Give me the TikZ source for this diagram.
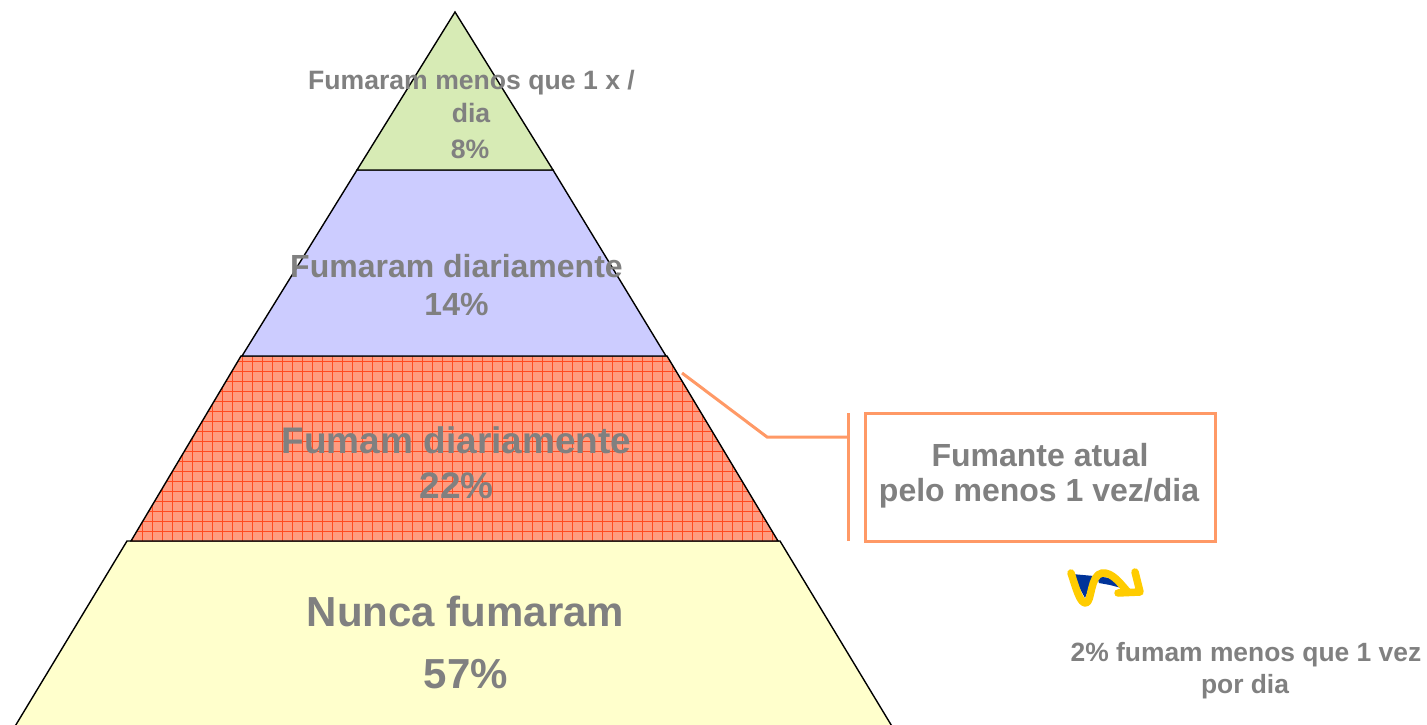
\documentclass[tikz,border=0pt]{standalone}
\usepackage{fontspec}
\setmainfont{Liberation Sans}
\definecolor{txt}{HTML}{808080}
\definecolor{topg}{HTML}{D7EBB5}
\definecolor{lav}{HTML}{CCCCFF}
\definecolor{salmon}{HTML}{FF9C80}
\definecolor{gridred}{HTML}{FF4A20}
\definecolor{ylw}{HTML}{FFFFCC}
\definecolor{callout}{HTML}{FF9966}
\definecolor{arrowy}{HTML}{FFCC00}
\definecolor{arrowb}{HTML}{003399}
\tikzset{
  band/.style={draw=black, line width=1.4pt, line join=miter},
  lbl/.style={anchor=base, text=txt, font=\bfseries, inner sep=0pt},
  calline/.style={draw=callout, line width=3pt},
}
\begin{document}
\begin{tikzpicture}[x=1pt,y=-1pt]
\useasboundingbox (0,0) rectangle (1427,725);
% bottom band
\path[band, fill=ylw] (127,541) -- (780,541) -- (893,728) -- (14,728) -- cycle;
% red hatched band
\path[fill=salmon] (131,541) -- (241,356) -- (667,356) -- (778,541) -- cycle;
\begin{scope}
  \clip (131,541) -- (241,356) -- (667,356) -- (778,541) -- cycle;
  \foreach \x in {122,132,...,790} \draw[gridred, line width=0.7pt] (\x,350) -- (\x,545);
  \foreach \y in {361,371,...,545} \draw[gridred, line width=0.7pt] (120,\y) -- (790,\y);
\end{scope}
\path[band] (131,541) -- (241,356) -- (667,356) -- (778,541) -- cycle;
% lavender band
\path[band, fill=lav] (242,356) -- (357,170) -- (553,170) -- (666,356) -- cycle;
% top triangle
\path[band, fill=topg] (357,170) -- (455,12) -- (553,170) -- cycle;

% labels
\node[lbl, font=\fontsize{26.6}{30}\selectfont\bfseries] (t1a) at (471.5,89) {Fumaram menos que 1 x /};
\node[lbl, font=\fontsize{26.6}{30}\selectfont\bfseries] (t1b) at (471,122) {dia};
\node[lbl, font=\fontsize{26.6}{30}\selectfont\bfseries] (t1c) at (470,158) {8\%};
\node[lbl, font=\fontsize{32}{36}\selectfont\bfseries] (t2a) at (456.5,277) {Fumaram diariamente};
\node[lbl, font=\fontsize{32}{36}\selectfont\bfseries] (t2b) at (456.5,315) {14\%};
\node[lbl, font=\fontsize{37}{42}\selectfont\bfseries] (t3a) at (456.5,453) {Fumam diariamente};
\node[lbl, font=\fontsize{37}{42}\selectfont\bfseries] (t3b) at (456.5,498) {22\%};
\node[lbl, font=\fontsize{42}{46}\selectfont\bfseries] (t4a) at (465.5,626) {Nunca fumaram};
\node[lbl, font=\fontsize{42}{46}\selectfont\bfseries] (t4b) at (466,688) {57\%};

% callout
\node[draw=callout, line width=3pt, minimum width=350pt, minimum height=128pt, inner sep=0pt] (box) at (1040,477) {};
\node[lbl, font=\fontsize{32}{36}\selectfont\bfseries] (c1) at (1040,466) {Fumante atual};
\node[lbl, font=\fontsize{32}{36}\selectfont\bfseries] (c2) at (1039,501) {pelo menos 1 vez/dia};
\coordinate (ctip) at (682,373);
\coordinate (cbend) at (767,437);
\coordinate (cbar) at (848,437);
\draw[calline] (ctip) -- (cbend) -- (cbar);
\draw[calline] (848,413) -- (848,541);

% squiggle arrow
\fill[arrowb] (1072,574) -- (1094,576) -- (1085,598) -- cycle;
\fill[arrowb] (1097,577) .. controls (1110,576) and (1120,582) .. (1129,590) -- (1110,585) -- (1099,583) -- cycle;
\draw[arrowy, line width=7.5pt, line cap=round, line join=round]
  (1071,573) .. controls (1076,588) and (1080,604) .. (1086,603)
  .. controls (1092,602) and (1090,575) .. (1102,573)
  .. controls (1112,572) and (1120,583) .. (1127,591);
\draw[arrowy, line width=7.5pt, line cap=round, line join=round]
  (1118,593) -- (1140,592) -- (1135,572);

\node[lbl, font=\fontsize{26.4}{30}\selectfont\bfseries] (n1) at (1246,661) {2\% fumam menos que 1 vez};
\node[lbl, font=\fontsize{26.4}{30}\selectfont\bfseries] (n2) at (1245,693) {por dia};
\end{tikzpicture}
\end{document}
